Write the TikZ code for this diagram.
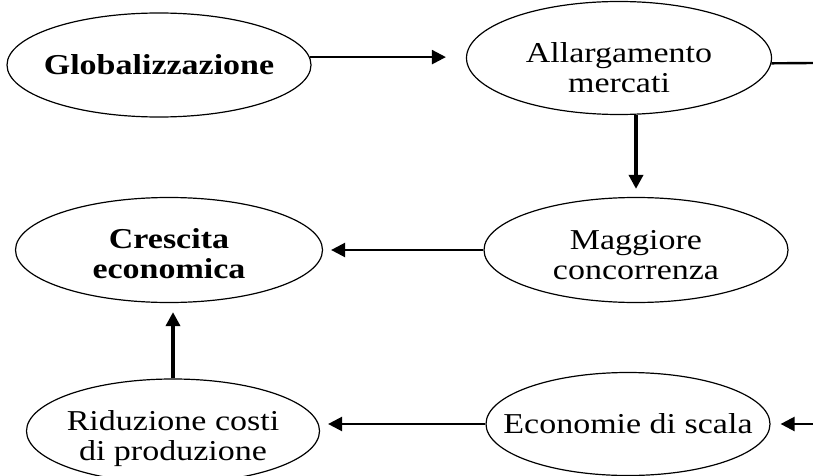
\documentclass[tikz,border=0pt]{standalone}
\usepackage{fontspec}
\setmainfont[FakeStretch=1.18]{Liberation Serif}
\usetikzlibrary{shapes.geometric,arrows.meta}

\begin{document}
\begin{tikzpicture}[x=0.5pt, y=-0.5pt,
    bubble/.style={draw, ellipse, line width=0.6pt, inner xsep=-25pt, inner ysep=-3pt,
      align=center, font=\fontsize{14.4}{15}\selectfont},
    link/.style={-{Triangle[length=7pt, width=7pt]}, line width=1.2pt},
    vlink/.style={link, line width=1.8pt}]
    %% units are pixels of the 813 x 476 sheet, y grows downwards
    %% (sizes of the ellipses are in pt = half a pixel unit)
    \useasboundingbox (0,0) rectangle (813,476);

    % ---- TOP ROW ----
    \node[bubble, minimum width=152pt, minimum height=52pt, font=\fontsize{14.4}{15}\selectfont\bfseries]
      (glob) at (159,65) {Globalizzazione};
    \node[bubble, minimum width=152.5pt, minimum height=56.5pt, text height=35pt] (allarg) at (619,58)
      {Allargamento\\mercati};

    % ---- MIDDLE ROW ----
    \node[bubble, minimum width=153.5pt, minimum height=52.5pt, text height=29pt,
      font=\fontsize{14.4}{15}\selectfont\bfseries]
      (crescita) at (169,250) {Crescita\\economica};
    \node[bubble, minimum width=152pt, minimum height=52.5pt, text height=30pt] (maggiore) at (636,250)
      {Maggiore\\concorrenza};

    % ---- BOTTOM ROW ----
    \node[bubble, minimum width=146.5pt, minimum height=52pt, text height=33pt] (riduzione) at (173,431)
      {Riduzione costi\\di produzione};
    \node[bubble, minimum width=142pt, minimum height=51.5pt] (economie) at (628,424)
      {Economie di scala};

    % loose ends at the right border
    \coordinate (outR) at (813,63);
    \coordinate (inR)  at (813,424);

    % ---- CONNECTORS ----
    \draw[link, shorten >=10pt] (glob.3) -- (glob.3 -| allarg.west);
    \draw[line width=1.2pt] (allarg.-2) -- (outR);
    \draw[vlink, shorten >=4pt] (allarg.south -| maggiore.north) -- (maggiore.north);
    \draw[link, shorten >=4pt] (maggiore.west) -- (crescita.east);
    \draw[link, shorten >=5pt] (inR) -- (economie.east);
    \draw[link, shorten >=4pt] (economie.west) -- (economie.west -| riduzione.east);
    \draw[vlink, shorten >=4.5pt] (riduzione.north) -- (riduzione.north |- crescita.south);

  \end{tikzpicture}
\end{document}
